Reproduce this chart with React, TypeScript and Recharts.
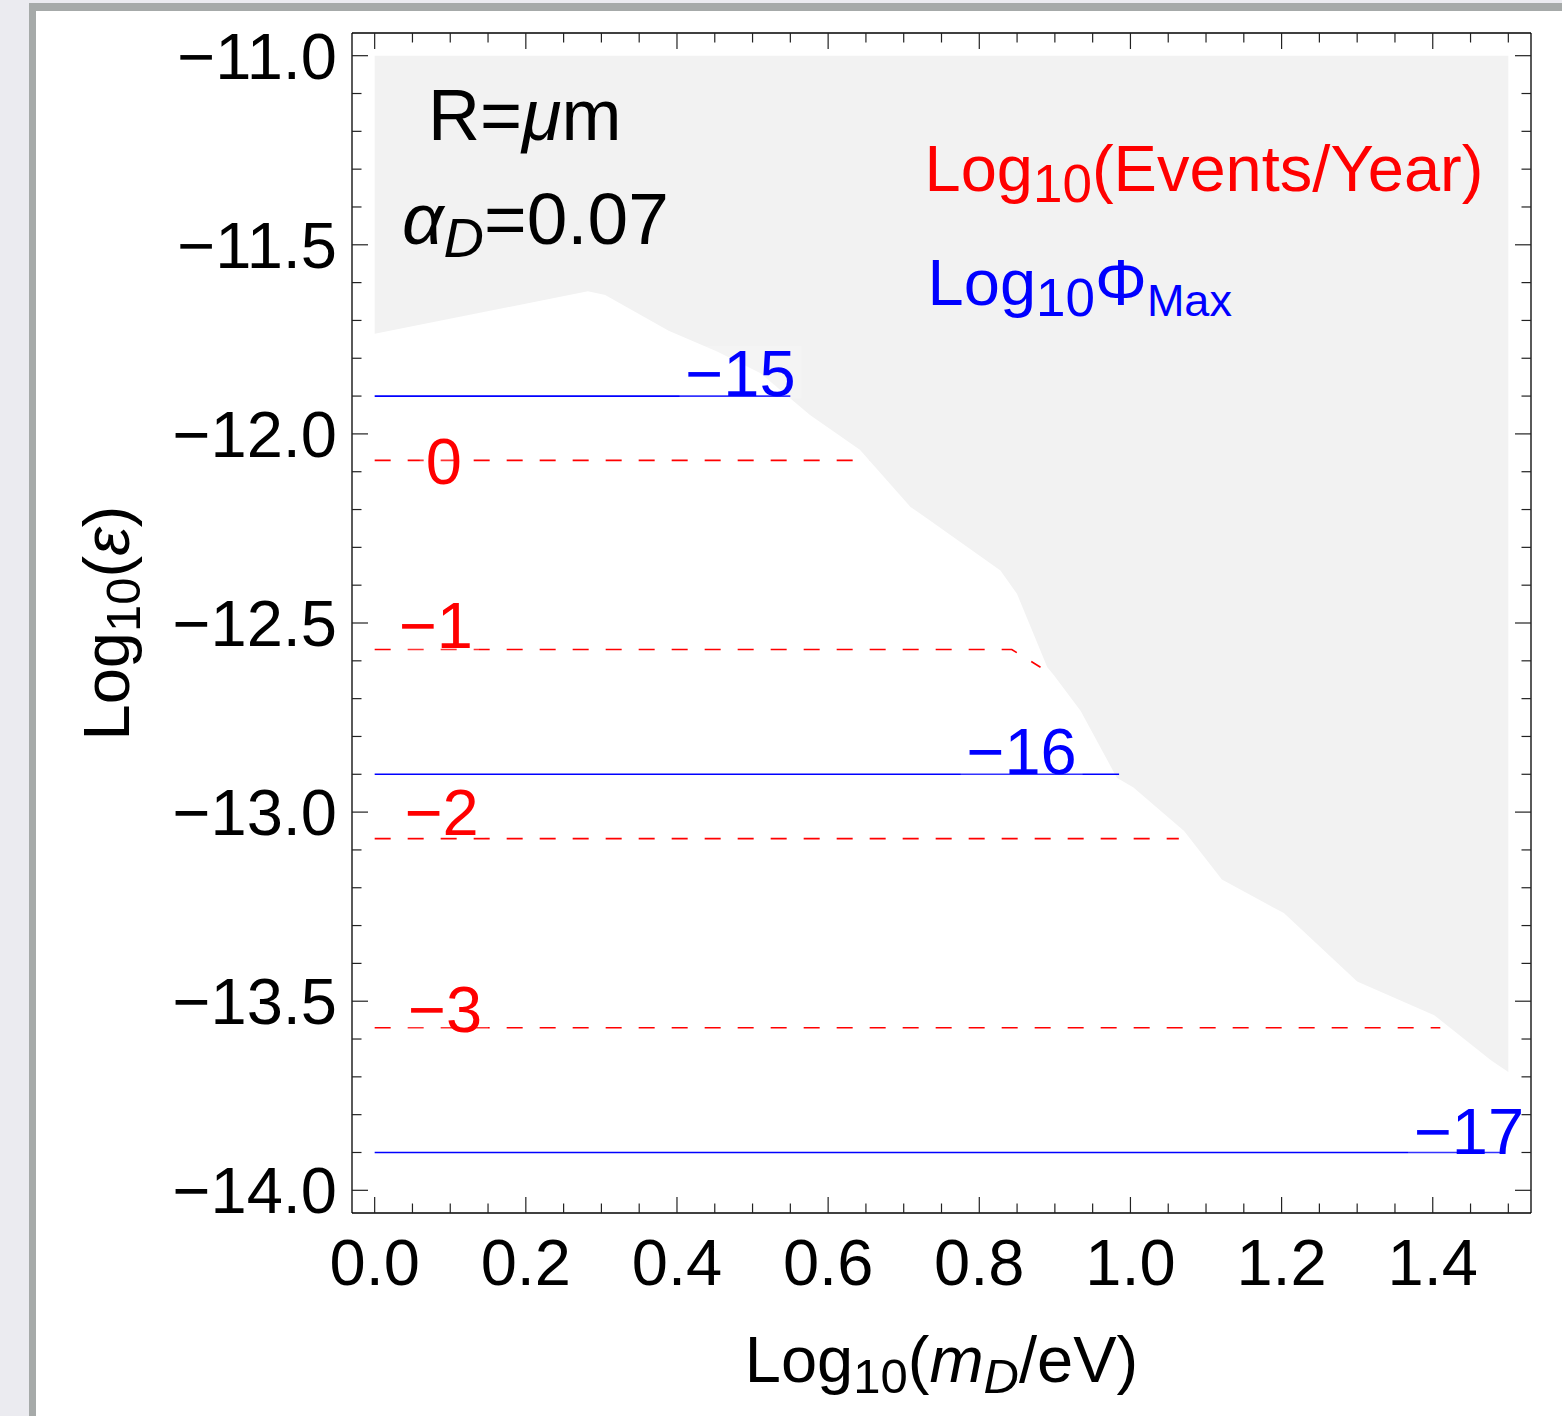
import React from "react";
import { ComposedChart, Area, Line, XAxis, YAxis, ReferenceDot } from "recharts";

const FONT = "'Liberation Sans', Arial, Helvetica, sans-serif";
const BLUE = "#0000ff";
const RED = "#ff0000";
const TICK = "#222";

// lower edge of the excluded (grey) region; its upper edge sits at -11
const edgeX = [0, 0.282, 0.305, 0.389, 0.453, 0.51, 0.576, 0.642, 0.709, 0.731, 0.828, 0.85, 0.89, 0.899, 0.934, 0.982, 1.004, 1.071, 1.121, 1.174, 1.203, 1.3, 1.402, 1.477, 1.5];
const edgeLow = [-11.735, -11.623, -11.633, -11.727, -11.782, -11.839, -11.95, -12.042, -12.193, -12.224, -12.361, -12.423, -12.617, -12.639, -12.732, -12.909, -12.935, -13.05, -13.178, -13.236, -13.267, -13.448, -13.537, -13.656, -13.687];
const edgeTop = -11.0;

// Log10 Phi_Max contours (blue, solid)
const fluxLevels = ["\u221215", "\u221216", "\u221217"];
const fluxY = [-11.9, -12.9, -13.9];
const fluxEndX = [0.55, 0.985, 1.49];
const fluxLabelX = [0.484, 0.856, 1.448];
const fluxLabelY = [-11.899, -12.899, -13.904];

// Log10 events/year contours (red, dashed)
const eventLevels = ["0", "\u22121", "\u22122", "\u22123"];
const event0X = [0, 0.655];
const event0Y = [-12.07, -12.07];
const event1X = [0, 0.843, 0.881];
const event1Y = [-12.57, -12.57, -12.617];
const event2X = [0, 1.064];
const event2Y = [-13.07, -13.07];
const event3X = [0, 1.41];
const event3Y = [-13.57, -13.57];
const eventLabelX = [0.0914, 0.0811, 0.0887, 0.0931];
const eventLabelY = [-12.132, -12.566, -13.06, -13.581];

const xTicks = [0, 0.05, 0.1, 0.15, 0.2, 0.25, 0.3, 0.35, 0.4, 0.45, 0.5, 0.55, 0.6, 0.65, 0.7, 0.75, 0.8, 0.85, 0.9, 0.95, 1.0, 1.05, 1.1, 1.15, 1.2, 1.25, 1.3, 1.35, 1.4, 1.45, 1.5];
const xMajor = [0, 0.2, 0.4, 0.6, 0.8, 1.0, 1.2, 1.4];
const yTicks = [-14, -13.9, -13.8, -13.7, -13.6, -13.5, -13.4, -13.3, -13.2, -13.1, -13, -12.9, -12.8, -12.7, -12.6, -12.5, -12.4, -12.3, -12.2, -12.1, -12, -11.9, -11.8, -11.7, -11.6, -11.5, -11.4, -11.3, -11.2, -11.1, -11];
const yMajor = [-14, -13.5, -13, -12.5, -12, -11.5, -11];

// text annotations (anchor = left end of baseline, data coords)
const noteX = [0.0706, 0.0361, 0.7276, 0.7316];
const noteY = [-11.224, -11.497, -11.357, -11.66];

const edgeData = edgeX.map((x, i) => ({ x, band: [edgeLow[i], edgeTop] }));
const toPts = (xs: number[], ys: number[]) => xs.map((x, i) => ({ x, y: ys[i] }));
const fluxData = fluxY.map((y, i) => toPts([0, fluxEndX[i]], [y, y]));
const eventData = [toPts(event0X, event0Y), toPts(event1X, event1Y), toPts(event2X, event2Y), toPts(event3X, event3Y)];

const isMajor = (v: number, majors: number[]) => majors.some((m) => Math.abs(m - v) < 1e-6);
const fmt = (v: number) => v.toFixed(1).replace("-", "\u2212");

function BottomTick({ x, y, payload }: any) {
  const major = isMajor(payload.value, xMajor);
  return (
    <g>
      <line x1={x} y1={y} x2={x} y2={y - (major ? 16 : 9.5)} stroke={TICK} strokeWidth={1.2} />
      {major && (
        <text x={x} y={y + 72} textAnchor="middle" fontSize={65} fontFamily={FONT} fill="#000">
          {fmt(payload.value)}
        </text>
      )}
    </g>
  );
}

function TopTick({ x, y, payload }: any) {
  const major = isMajor(payload.value, xMajor);
  return <line x1={x} y1={y} x2={x} y2={y + (major ? 16 : 9.5)} stroke={TICK} strokeWidth={1.2} />;
}

function LeftTick({ x, y, payload }: any) {
  const major = isMajor(payload.value, yMajor);
  return (
    <g>
      <line x1={x} y1={y} x2={x + (major ? 16 : 9.5)} y2={y} stroke={TICK} strokeWidth={1.2} />
      {major && (
        <text x={x - 15} y={y + 23} textAnchor="end" fontSize={65} fontFamily={FONT} fill="#000">
          {fmt(payload.value)}
        </text>
      )}
    </g>
  );
}

function RightTick({ x, y, payload }: any) {
  const major = isMajor(payload.value, yMajor);
  return <line x1={x} y1={y} x2={x - (major ? 16 : 9.5)} y2={y} stroke={TICK} strokeWidth={1.2} />;
}

function ContourLabel({ cx, cy, text, color }: any) {
  const w = text.length * 36 + (text.startsWith("\u2212") ? 2 : 0);
  return (
    <g>
      <rect x={cx - w / 2 - 6} y={cy - 50} width={w + 12} height={53} fill="#fff" fillOpacity={0.2} />
      <text x={cx} y={cy} textAnchor="middle" fontSize={65} fontFamily={FONT} fill={color}>
        {text}
      </text>
    </g>
  );
}

function Note({ cx, cy, idx }: any) {
  if (idx === 0)
    return (
      <text x={cx} y={cy} fontSize={72} fontFamily={FONT} fill="#000">
        R=<tspan fontStyle="italic">μ</tspan>m
      </text>
    );
  if (idx === 1)
    return (
      <text x={cx} y={cy} fontSize={73} fontFamily={FONT} fill="#000">
        <tspan fontStyle="italic">α</tspan>
        <tspan fontStyle="italic" fontSize={56} dy={13}>D</tspan>
        <tspan dy={-13}>=0.07</tspan>
      </text>
    );
  if (idx === 2)
    return (
      <text x={cx} y={cy} fontSize={65} fontFamily={FONT} fill={RED}>
        Log<tspan fontSize={53} dy={11}>10</tspan>
        <tspan dy={-11}>(Events/Year)</tspan>
      </text>
    );
  return (
    <text x={cx} y={cy} fontSize={65} fontFamily={FONT} fill={BLUE}>
      Log<tspan fontSize={53} dy={11}>10</tspan>
      <tspan dy={-11}>Φ</tspan>
      <tspan fontSize={45} dy={11}>Max</tspan>
    </text>
  );
}

function YLabel({ viewBox }: any) {
  const x = viewBox.x + 129;
  const y = viewBox.y + viewBox.height / 2;
  return (
    <text x={x} y={y} transform={`rotate(-90, ${x}, ${y})`} textAnchor="middle" fontSize={65} fontFamily={FONT} fill="#000">
      Log<tspan fontSize={49} dy={11}>10</tspan>
      <tspan dy={-11}>(</tspan>
      <tspan fontStyle="italic">ε</tspan>)
    </text>
  );
}

function XLabel({ viewBox }: any) {
  const x = viewBox.x + viewBox.width / 2;
  const y = viewBox.y + 169;
  return (
    <text x={x} y={y} textAnchor="middle" fontSize={65} fontFamily={FONT} fill="#000">
      Log<tspan fontSize={49} dy={11}>10</tspan>
      <tspan dy={-11}>(</tspan>
      <tspan fontStyle="italic">m</tspan>
      <tspan fontStyle="italic" fontSize={49} dy={11}>D</tspan>
      <tspan dy={-11}>/eV)</tspan>
    </text>
  );
}

export default function App() {
  return (
    <div style={{ position: "absolute", left: 0, top: 0, width: 1562, height: 1416, background: "#ebebf0", overflow: "hidden" }}>
      <div
        style={{
          position: "absolute",
          left: 29,
          top: 3,
          right: 0,
          bottom: 0,
          background: "#fff",
          borderLeft: "7px solid #a6aaa9",
          borderTop: "8px solid #a6aaa9",
        }}
      />
      <div style={{ position: "absolute", left: 0, top: 0 }}>
        <ComposedChart width={1562} height={1416} data={edgeData} margin={{ top: 32, right: 30, bottom: 0, left: 0 }}>
          <XAxis
            xAxisId={0}
            dataKey="x"
            type="number"
            domain={[-0.03, 1.53]}
            allowDataOverflow
            ticks={xTicks}
            interval={0}
            tickSize={0}
            tickMargin={0}
            tickLine={false}
            axisLine={{ stroke: "#000", strokeWidth: 1.3 }}
            tick={<BottomTick />}
            height={203}
            label={<XLabel />}
          />
          <XAxis
            xAxisId="top"
            orientation="top"
            dataKey="x"
            type="number"
            domain={[-0.03, 1.53]}
            allowDataOverflow
            ticks={xTicks}
            interval={0}
            tickSize={0}
            tickMargin={0}
            tickLine={false}
            axisLine={{ stroke: "#000", strokeWidth: 1.3 }}
            tick={<TopTick />}
            height={1}
          />
          <YAxis
            yAxisId={0}
            type="number"
            domain={[-14.06, -10.94]}
            allowDataOverflow
            ticks={yTicks}
            interval={0}
            tickSize={0}
            tickMargin={0}
            tickLine={false}
            axisLine={{ stroke: "#000", strokeWidth: 1.3 }}
            tick={<LeftTick />}
            width={352}
            label={<YLabel />}
          />
          <YAxis
            yAxisId="right"
            orientation="right"
            type="number"
            domain={[-14.06, -10.94]}
            allowDataOverflow
            ticks={yTicks}
            interval={0}
            tickSize={0}
            tickMargin={0}
            tickLine={false}
            axisLine={{ stroke: "#000", strokeWidth: 1.3 }}
            tick={<RightTick />}
            width={1}
          />

          <Area
            dataKey="band"
            type="linear"
            stroke="none"
            fill="#f2f2f2"
            fillOpacity={1}
            dot={false}
            activeDot={false}
            isAnimationActive={false}
          />

          {eventData.map((d, i) => (
            <Line
              key={`ev${i}`}
              data={d}
              dataKey="y"
              type="linear"
              stroke={RED}
              strokeWidth={1.6}
              strokeDasharray="16 17"
              dot={false}
              activeDot={false}
              isAnimationActive={false}
            />
          ))}
          {fluxData.map((d, i) => (
            <Line
              key={`fl${i}`}
              data={d}
              dataKey="y"
              type="linear"
              stroke={BLUE}
              strokeWidth={1.6}
              dot={false}
              activeDot={false}
              isAnimationActive={false}
            />
          ))}

          {eventLevels.map((t, i) => (
            <ReferenceDot
              key={`el${i}`}
              x={eventLabelX[i]}
              y={eventLabelY[i]}
              r={0}
              ifOverflow="visible"
              shape={(p: any) => <ContourLabel cx={p.cx} cy={p.cy} text={t} color={RED} />}
            />
          ))}
          {fluxLevels.map((t, i) => (
            <ReferenceDot
              key={`fl${i}`}
              x={fluxLabelX[i]}
              y={fluxLabelY[i]}
              r={0}
              ifOverflow="visible"
              shape={(p: any) => <ContourLabel cx={p.cx} cy={p.cy} text={t} color={BLUE} />}
            />
          ))}
          {noteX.map((x, i) => (
            <ReferenceDot
              key={`n${i}`}
              x={x}
              y={noteY[i]}
              r={0}
              ifOverflow="visible"
              shape={(p: any) => <Note cx={p.cx} cy={p.cy} idx={i} />}
            />
          ))}
        </ComposedChart>
      </div>
    </div>
  );
}
